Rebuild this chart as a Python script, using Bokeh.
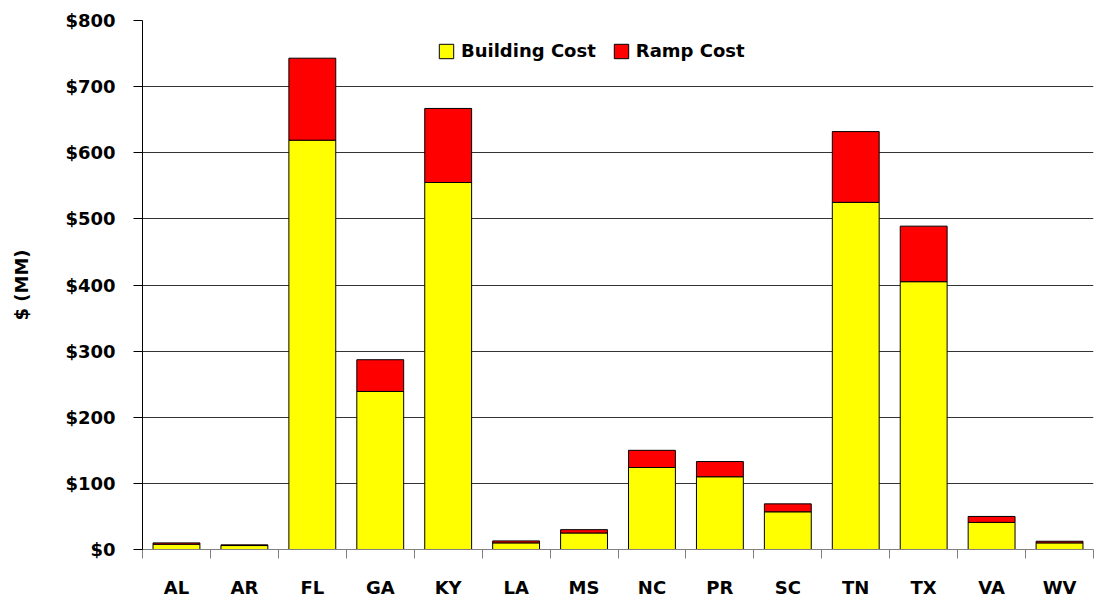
from bokeh.plotting import figure
from bokeh.models import (ColumnDataSource, Range1d, FixedTicker, Legend, LegendItem,
                          NumeralTickFormatter)
from bokeh.embed import file_html
from bokeh.resources import INLINE

states = ["AL", "AR", "FL", "GA", "KY", "LA", "MS", "NC", "PR", "SC", "TN", "TX", "VA", "WV"]
building_cost = [8, 6, 619, 239, 555, 10, 25, 124, 110, 57, 525, 405, 41, 10]
ramp_cost = [2, 1, 124, 48, 112, 3, 5, 26, 23, 12, 107, 84, 9, 2.5]
y_ticks = [0, 100, 200, 300, 400, 500, 600, 700, 800]

FONT = "DejaVu Sans"
FSIZE = "18px"

xs = [i + 0.5 for i in range(len(states))]
src = ColumnDataSource(dict(x=xs, building=building_cost, ramp=ramp_cost))

p = figure(width=1095, height=603, output_backend="svg", toolbar_location=None,
           x_range=Range1d(0, len(states)), y_range=Range1d(0, 800),
           min_border_left=142, min_border_top=20, min_border_bottom=54, min_border_right=2)

r = p.vbar_stack(["building", "ramp"], x="x", width=0.69, source=src,
                 fill_color=["#FFFF00", "#FF0000"], line_color="black", line_width=1)

p.outline_line_color = None
p.background_fill_color = "white"
p.xgrid.grid_line_color = None
p.ygrid.grid_line_color = "#333333"
p.ygrid.grid_line_width = 1

# y axis
p.yaxis.ticker = FixedTicker(ticks=y_ticks, minor_ticks=[])
p.yaxis.formatter = NumeralTickFormatter(format="$0")
p.yaxis.axis_line_color = "black"
p.yaxis.major_tick_line_color = "black"
p.yaxis.major_tick_out = 9
p.yaxis.major_tick_in = 0
p.yaxis.minor_tick_line_color = None
p.yaxis.major_label_text_font = FONT
p.yaxis.major_label_text_font_style = "bold"
p.yaxis.major_label_text_font_size = FSIZE
p.yaxis.major_label_text_color = "black"
p.yaxis.major_label_standoff = 18
p.yaxis.axis_label = "$ (MM)"
p.yaxis.axis_label_text_font = FONT
p.yaxis.axis_label_text_font_style = "bold"
p.yaxis.axis_label_text_font_size = FSIZE
p.yaxis.axis_label_text_color = "black"
p.yaxis.axis_label_standoff = 30

# x axis
p.xaxis.ticker = FixedTicker(ticks=xs, minor_ticks=list(range(len(states) + 1)))
p.xaxis.major_label_overrides = {x: s for x, s in zip(xs, states)}
p.xaxis.axis_line_color = "#808080"
p.xaxis.major_tick_line_color = None
p.xaxis.major_tick_out = 0
p.xaxis.major_tick_in = 0
p.xaxis.minor_tick_line_color = "#808080"
p.xaxis.minor_tick_out = 9
p.xaxis.minor_tick_in = 0
p.xaxis.major_label_text_font = FONT
p.xaxis.major_label_text_font_style = "bold"
p.xaxis.major_label_text_font_size = FSIZE
p.xaxis.major_label_text_color = "black"
p.xaxis.major_label_standoff = 18

legend = Legend(items=[LegendItem(label="Building Cost", renderers=[r[0]]),
                       LegendItem(label="Ramp Cost", renderers=[r[1]])],
                orientation="horizontal", location=(295, 488),
                border_line_color=None, background_fill_alpha=0,
                padding=0, margin=0, spacing=16,
                glyph_width=18, glyph_height=18, label_standoff=6,
                label_text_font=FONT, label_text_font_style="bold",
                label_text_font_size=FSIZE, label_text_color="black", label_height=18)
p.add_layout(legend, "center")

open("out.html", "w").write(file_html(p, INLINE))
